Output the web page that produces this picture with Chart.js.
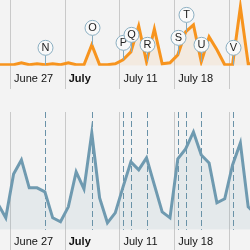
<!DOCTYPE html>
<html lang="en">
<head>
<meta charset="UTF-8">
<title>Flags over two series</title>
<script src="https://cdn.jsdelivr.net/npm/chart.js@4.4.0/dist/chart.umd.min.js"></script>
<style>
    body { margin: 0; background: #f3f3f3; }
    #wrap { position: relative; width: 250px; height: 250px; overflow: hidden; }
    canvas { position: absolute; left: 0; }
    #topChart { top: 0; }
    #bottomChart { top: 90px; }
</style>
</head>
<body>
<div id="wrap">
    <canvas id="topChart" width="250" height="93"></canvas>
    <canvas id="bottomChart" width="250" height="165"></canvas>
</div>
<script>
// days counted from June 27, samples taken late morning
const days = [-2, -1, 0, 1, 2, 3, 4, 5, 6, 7, 8, 9, 10, 11, 12, 13, 14, 15,
              16, 17, 18, 19, 20, 21, 22, 23, 24, 25, 26, 27, 28, 29, 30, 31];
const sampleHour = 11;

// upper series (orange)
const volume = [1, 1, 1, 3, 1, 2, 1, 2, 1, 3, 1, 1, 21, 1, 1, 2, 6, 14,
                40, 4, 37, 2, 3, 11, 34, 41, 4, 29, 16, 1, 1, 59, 2, 2];

// lower series (blue grey)
const price = [26, 12, 56, 70, 42, 42, 38, 12, 8, 23, 58, 41, 97, 32, 7, 17, 43, 68,
               60, 72, 45, 18, 12, 71, 81, 98, 75, 67, 27, 31, 65, 87, 23, 15];

const tickDays = [0, 7, 14, 21, 28];
const tickLabels = ['June 27', 'July', 'July 11', 'July 18', ''];

const flagLetters = ['N', 'O', 'P', 'Q', 'R', 'S', 'T', 'U', 'V'];
const flagDays = [4, 10, 14, 15, 17, 21, 22, 24, 28];

const viewStart = -1.28;
const viewEnd = 30.69;

const FONT = 'Liberation Sans, Arial, sans-serif';

function toPoints(values) {
    return days.map((d, i) => ({ x: d + sampleHour / 24, y: values[i] }));
}

// vertical tick lines that run through the label band
const tickLines = {
    id: 'tickLines',
    beforeDatasetsDraw(chart, args, opts) {
        const { ctx, chartArea, scales: { x } } = chart;
        ctx.save();
        ctx.strokeStyle = '#c9c9c9';
        ctx.lineWidth = 1;
        x.ticks.forEach(t => {
            const px = Math.round(x.getPixelForValue(t.value)) + 0.5;
            ctx.beginPath();
            ctx.moveTo(px, chartArea.top);
            ctx.lineTo(px, opts.bottom);
            ctx.stroke();
        });
        ctx.restore();
    }
};

// dashed lines marking flag days in the lower chart
const flagLines = {
    id: 'flagLines',
    beforeDatasetsDraw(chart) {
        if (chart.canvas.id !== 'bottomChart') return;
        const { ctx, chartArea, scales: { x } } = chart;
        ctx.save();
        ctx.strokeStyle = '#6a92a8';
        ctx.lineWidth = 1;
        ctx.setLineDash([6, 3]);
        flagDays.forEach(d => {
            const px = Math.round(x.getPixelForValue(d + sampleHour / 24)) + 0.5;
            ctx.beginPath();
            ctx.moveTo(px, chartArea.top);
            ctx.lineTo(px, chartArea.bottom);
            ctx.stroke();
        });
        ctx.restore();
    }
};

// circle pins with letters on the upper chart
const flagPins = {
    id: 'flagPins',
    afterDatasetsDraw(chart) {
        if (chart.canvas.id !== 'topChart') return;
        const { ctx } = chart;
        const meta = chart.getDatasetMeta(0);
        const r = 7.5;
        ctx.save();
        flagDays.forEach((d, k) => {
            const pt = meta.data[days.indexOf(d)];
            const px = Math.round(pt.x) + 0.5;
            const cy = pt.y - 17;
            ctx.strokeStyle = '#85a9bc';
            ctx.lineWidth = 1;
            ctx.beginPath();
            ctx.moveTo(px, cy + r);
            ctx.lineTo(px, pt.y);
            ctx.stroke();
            ctx.beginPath();
            ctx.arc(px, cy, r, 0, Math.PI * 2);
            ctx.fillStyle = '#f9f9f9';
            ctx.fill();
            ctx.strokeStyle = '#8aaec1';
            ctx.stroke();
            ctx.fillStyle = '#222';
            ctx.font = '11px ' + FONT;
            ctx.textAlign = 'center';
            ctx.textBaseline = 'middle';
            ctx.fillText(flagLetters[k], px, cy + 0.5);
        });
        ctx.restore();
    }
};

function makeChart(id, values, cfg) {
    return new Chart(document.getElementById(id), {
        type: 'line',
        data: {
            datasets: [{
                data: toPoints(values),
                borderColor: cfg.color,
                backgroundColor: cfg.fill,
                borderWidth: 3,
                pointRadius: 0,
                tension: 0,
                fill: 'origin'
            }]
        },
        options: {
            responsive: false,
            animation: false,
            layout: { padding: cfg.padding },
            plugins: {
                legend: { display: false },
                tooltip: { enabled: false },
                tickLines: { bottom: cfg.lineBottom }
            },
            scales: {
                x: {
                    type: 'linear',
                    min: viewStart,
                    max: viewEnd,
                    afterBuildTicks: scale => {
                        scale.ticks = tickDays.map(v => ({ value: v }));
                    },
                    grid: { display: false, drawTicks: false },
                    border: { display: false },
                    ticks: {
                        autoSkip: false,
                        maxRotation: 0,
                        align: 'start',
                        labelOffset: 4,
                        padding: cfg.labelPad,
                        color: '#111',
                        callback: (value, index) => tickLabels[index],
                        font: ctx => ({
                            family: FONT,
                            size: 11,
                            weight: ctx.tick && ctx.tick.label === 'July' ? 'bold' : 'normal'
                        })
                    }
                },
                y: {
                    display: false,
                    min: 0,
                    max: cfg.yMax
                }
            }
        },
        plugins: [tickLines, flagLines, flagPins]
    });
}

makeChart('topChart', volume, {
    color: '#f7941e',
    fill: 'rgba(247, 148, 30, 0.09)',
    padding: { top: 0, left: 0, right: 0, bottom: 0 },
    labelPad: 7,
    lineBottom: 89,
    yMax: 66
});

makeChart('bottomChart', price, {
    color: '#6f9ab0',
    fill: 'rgba(111, 154, 176, 0.11)',
    padding: { top: 22, left: 0, right: 0, bottom: 0 },
    labelPad: 6,
    lineBottom: 165,
    yMax: 118
});
</script>
</body>
</html>
